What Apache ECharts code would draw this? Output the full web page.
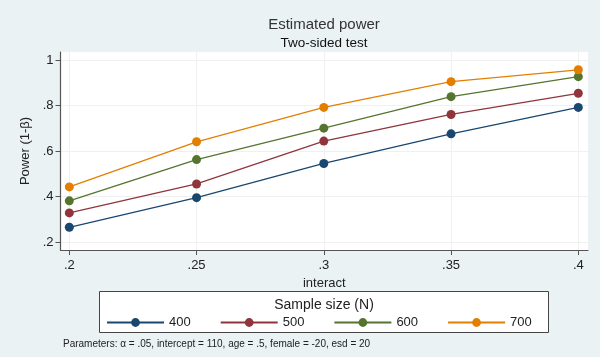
<!DOCTYPE html>
<html>
<head>
<meta charset="utf-8">
<script src="https://cdn.jsdelivr.net/npm/echarts@6/dist/echarts.min.js"></script>
<style>
html,body{margin:0;padding:0;background:#eaf2f3;}
#c{width:600px;height:357px;}
</style>
</head>
<body>
<div id="c"></div>
<script>
var interact = [0.2, 0.25, 0.3, 0.35, 0.4];
var n400 = [0.266, 0.396, 0.546, 0.676, 0.792];
var n500 = [0.329, 0.456, 0.644, 0.761, 0.854];
var n600 = [0.382, 0.563, 0.701, 0.839, 0.927];
var n700 = [0.443, 0.641, 0.792, 0.905, 0.957];
var seriesNames = ['400', '500', '600', '700'];
var xTickValues = [0.2, 0.25, 0.3, 0.35, 0.4];
var xTickLabels = ['.2', '.25', '.3', '.35', '.4'];
var yTickValues = [0.2, 0.4, 0.6, 0.8, 1];
var yTickLabels = ['.2', '.4', '.6', '.8', '1'];

var colors = ['#1a476f', '#90353b', '#55752f', '#e37e00'];
var font = 'Liberation Sans, Arial, sans-serif';

function lab(vals, labels) {
  return function (v) {
    for (var i = 0; i < vals.length; i++) {
      if (Math.abs(vals[i] - v) < 1e-6) return labels[i];
    }
    return '';
  };
}
function pairs(ys) {
  return interact.map(function (x, i) { return [x, ys[i]]; });
}
var allData = [n400, n500, n600, n700];
var series = allData.map(function (d, i) {
  return {
    name: seriesNames[i],
    type: 'line',
    data: pairs(d),
    symbol: 'circle',
    symbolSize: 9,
    color: colors[i],
    lineStyle: { width: 1.3, color: colors[i] },
    itemStyle: { color: colors[i] },
    emphasis: { disabled: true },
    z: 3 + i
  };
});

var chart = echarts.init(document.getElementById('c'), null, { renderer: 'canvas' });
chart.setOption({
  animation: false,
  backgroundColor: '#eaf2f3',
  textStyle: { fontFamily: font },
  title: [
    { text: 'Estimated power', left: 324, top: 17, textAlign: 'center', padding: 0,
      textStyle: { fontSize: 15, fontWeight: 'normal', color: '#333', fontFamily: font } },
    { text: 'Two-sided test', left: 324, top: 36.5, textAlign: 'center', padding: 0,
      textStyle: { fontSize: 13.5, fontWeight: 'normal', color: '#111', fontFamily: font } }
  ],
  grid: { left: 60.5, right: 12, top: 52, bottom: 107, show: true, backgroundColor: '#ffffff', borderWidth: 0 },
  xAxis: {
    type: 'value', min: 0.19654, max: 0.40381,
    name: 'interact', nameLocation: 'middle', nameGap: 22,
    nameTextStyle: { fontSize: 13, color: '#222', fontFamily: font },
    axisLine: { show: true, onZero: false, lineStyle: { color: '#555', width: 1.2 } },
    axisTick: { show: true, length: 5, customValues: xTickValues, lineStyle: { color: '#555' } },
    axisLabel: { customValues: xTickValues, formatter: lab(xTickValues, xTickLabels), fontSize: 13, color: '#222', margin: 9, fontFamily: font },
    splitLine: { show: true, lineStyle: { color: '#f0f0f0', width: 1 } }
  },
  yAxis: {
    type: 'value', min: 0.1662, max: 1.0351,
    name: 'Power (1-β)', nameLocation: 'middle', nameGap: 29, nameRotate: 90,
    nameTextStyle: { fontSize: 13, color: '#222', fontFamily: font },
    axisLine: { show: true, onZero: false, lineStyle: { color: '#555', width: 1.2 } },
    axisTick: { show: true, length: 5, customValues: yTickValues, lineStyle: { color: '#555' } },
    axisLabel: { customValues: yTickValues, formatter: lab(yTickValues, yTickLabels), fontSize: 13, color: '#222', margin: 7, fontFamily: font },
    splitLine: { show: true, lineStyle: { color: '#f0f0f0', width: 1 } }
  },
  legend: {
    data: seriesNames,
    left: 106, top: 316, padding: 0,
    itemWidth: 57, itemHeight: 11, itemGap: 29,
    textStyle: { fontSize: 13, color: '#222', fontFamily: font },
    selectedMode: false
  },
  graphic: [
    { type: 'rect', shape: { x: 99.5, y: 291.5, width: 449, height: 41 },
      style: { fill: '#ffffff', stroke: '#444', lineWidth: 1 }, z: -1, silent: true },
    { type: 'text', x: 324, y: 305, style: { text: 'Sample size (N)', fill: '#222', font: '14px ' + font, textAlign: 'center', textVerticalAlign: 'middle' }, silent: true },
    { type: 'text', x: 63, y: 344, style: { text: 'Parameters: α = .05, intercept = 110, age = .5, female = -20, esd = 20', fill: '#222', font: '10px ' + font, textAlign: 'left', textVerticalAlign: 'middle' }, silent: true }
  ],
  series: series
});
</script>
</body>
</html>
